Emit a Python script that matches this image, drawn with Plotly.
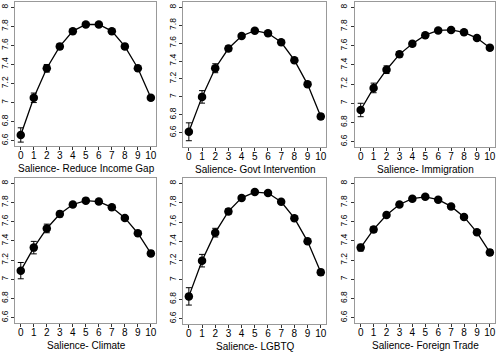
import plotly.graph_objects as go

x_vals = list(range(11))
tick_vals_y = [6.6, 6.8, 7.0, 7.2, 7.4, 7.6, 7.8, 8.0]
tick_text_y = ["6.6", "6.8", "7", "7.2", "7.4", "7.6", "7.8", "8"]

titles = ["Salience- Reduce Income Gap", "Salience- Govt Intervention", "Salience- Immigration",
          "Salience- Climate", "Salience- LGBTQ", "Salience- Foreign Trade"]

income_mean = [6.66, 7.05, 7.36, 7.59, 7.75, 7.82, 7.82, 7.75, 7.59, 7.36, 7.05]
income_ci = [0.075, 0.05, 0.04, 0.03, 0.02, 0.02, 0.02, 0.02, 0.02, 0.02, 0.025]

govt_mean = [6.61, 7.00, 7.32, 7.54, 7.68, 7.74, 7.71, 7.61, 7.41, 7.14, 6.78]
govt_ci = [0.10, 0.07, 0.05, 0.03, 0.02, 0.02, 0.02, 0.02, 0.02, 0.025, 0.03]

immig_mean = [6.93, 7.16, 7.35, 7.51, 7.62, 7.71, 7.76, 7.765, 7.74, 7.68, 7.58]
immig_ci = [0.07, 0.05, 0.04, 0.03, 0.025, 0.02, 0.02, 0.02, 0.02, 0.02, 0.025]

climate_mean = [7.09, 7.33, 7.53, 7.68, 7.78, 7.82, 7.81, 7.75, 7.64, 7.48, 7.27]
climate_ci = [0.085, 0.065, 0.045, 0.03, 0.02, 0.02, 0.02, 0.02, 0.02, 0.02, 0.025]

lgbtq_mean = [6.83, 7.20, 7.49, 7.71, 7.85, 7.91, 7.90, 7.81, 7.64, 7.40, 7.08]
lgbtq_ci = [0.09, 0.065, 0.045, 0.03, 0.02, 0.02, 0.02, 0.02, 0.02, 0.02, 0.03]

trade_mean = [7.33, 7.52, 7.67, 7.78, 7.84, 7.86, 7.83, 7.76, 7.65, 7.49, 7.28]
trade_ci = [0.035, 0.03, 0.02, 0.02, 0.02, 0.02, 0.02, 0.02, 0.02, 0.02, 0.03]

series = [(income_mean, income_ci), (govt_mean, govt_ci), (immig_mean, immig_ci),
          (climate_mean, climate_ci), (lgbtq_mean, lgbtq_ci), (trade_mean, trade_ci)]

W, H = 500, 352
# pixel boxes (left, right, top, bottom)
boxes = [(13, 155, 2, 146), (182, 326, 2, 147), (355, 496, 2, 147),
         (13, 155, 178, 323), (182, 326, 178, 324), (355, 496, 178, 323)]
yranges = [[6.544, 8.056], [6.44, 8.06], [6.544, 8.056],
           [6.544, 8.056], [6.544, 8.056], [6.544, 8.056]]
xrange_ = [-0.45, 10.4]

FONT = "Liberation Sans, Arial, Helvetica, sans-serif"

fig = go.Figure()
layout = dict(width=W, height=H, margin=dict(l=0, r=0, t=0, b=0),
              paper_bgcolor="white", plot_bgcolor="white", showlegend=False,
              font=dict(family=FONT, color="black"))
annotations = []
for i, ((m, c), (l, r, t, b), yr, title) in enumerate(zip(series, boxes, yranges, titles)):
    n = i + 1
    xa = "x" if n == 1 else f"x{n}"
    ya = "y" if n == 1 else f"y{n}"
    fig.add_trace(go.Scatter(
        x=x_vals, y=m, xaxis=xa, yaxis=ya, mode="lines+markers",
        line=dict(color="black", width=1.3),
        marker=dict(color="black", size=8.5, symbol="circle"),
        error_y=dict(type="data", array=c, visible=True, color="black", thickness=1, width=3),
    ))
    xkey = "xaxis" if n == 1 else f"xaxis{n}"
    ykey = "yaxis" if n == 1 else f"yaxis{n}"
    layout[xkey] = dict(domain=[l / W, r / W], anchor=ya, range=xrange_,
                        tickvals=x_vals, ticktext=[str(v) for v in x_vals],
                        ticks="outside", ticklen=3, tickcolor="#333", tickwidth=1,
                        ticklabelstandoff=-3,
                        showline=True, linecolor="#999", linewidth=1, mirror=True,
                        showgrid=False, zeroline=False,
                        tickfont=dict(size=10, family=FONT, color="black"))
    layout[ykey] = dict(domain=[1 - b / H, 1 - t / H], anchor=xa, range=yr,
                        tickvals=tick_vals_y, ticktext=tick_text_y,
                        ticks="outside", ticklen=3, tickcolor="#333", tickwidth=1,
                        showline=True, linecolor="#999", linewidth=1, mirror=True,
                        showgrid=False, zeroline=False, tickangle=-90,
                        tickfont=dict(size=8.5, family=FONT, color="black"))
    annotations.append(dict(text=title, xref="paper", yref="paper",
                            x=((l + r) / 2 + 1) / W, y=1 - (b + 22) / H,
                            xanchor="center", yanchor="middle", showarrow=False,
                            font=dict(size=10, family=FONT, color="black")))
layout["annotations"] = annotations
fig.update_layout(**layout)
fig.write_html("out.html")
